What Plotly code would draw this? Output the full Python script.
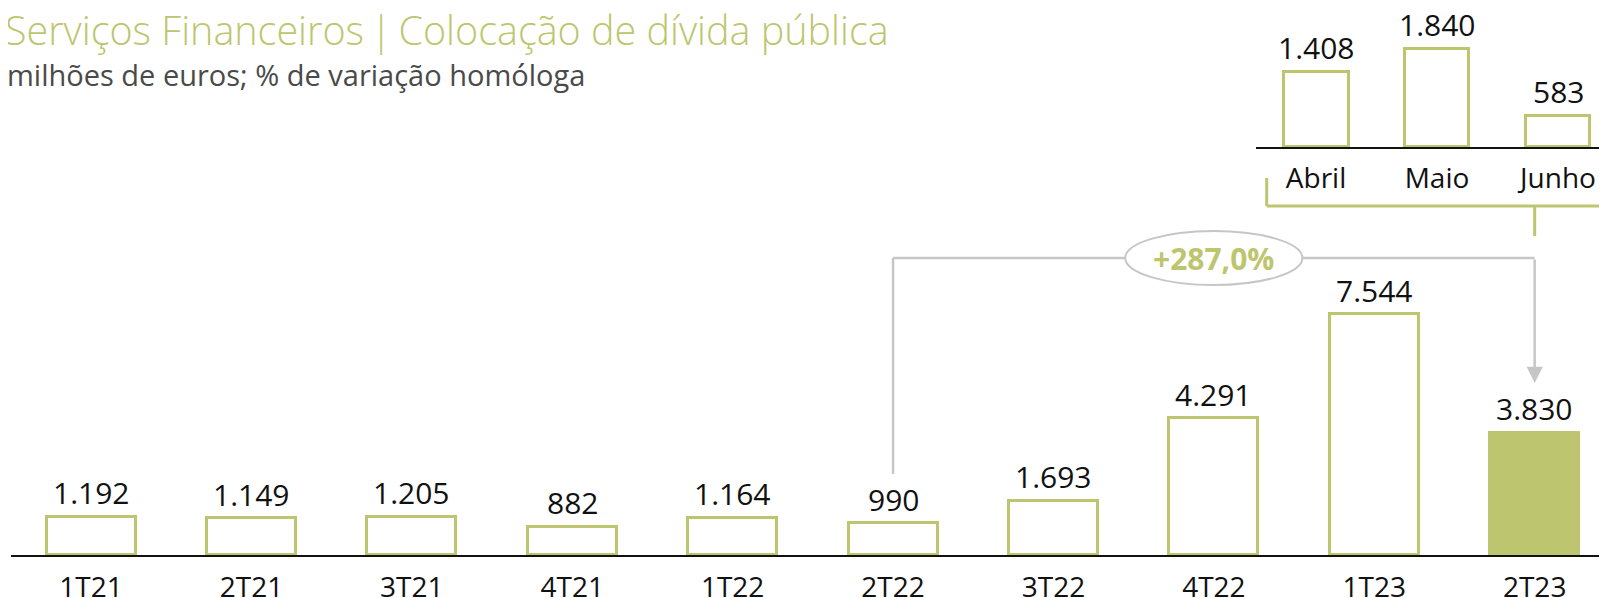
import plotly.graph_objects as go

# ---- data ----
quarters = ["1T21", "2T21", "3T21", "4T21", "1T22", "2T22", "3T22", "4T22", "1T23", "2T23"]
quarter_values = [1192, 1149, 1205, 882, 1164, 990, 1693, 4291, 7544, 3830]
quarter_labels = ["1.192", "1.149", "1.205", "882", "1.164", "990", "1.693", "4.291", "7.544", "3.830"]

months = ["Abril", "Maio", "Junho"]
month_values = [1408, 1840, 583]
month_labels = ["1.408", "1.840", "583"]

growth_label = "+287,0%"
title_text = "Serviços Financeiros\u2009|\u2009Colocação de dívida pública"
subtitle_text = "milhões de euros; % de variação homóloga"

# ---- style ----
GREEN = "#BDC66F"
GRAY = "#C6C6C6"
BLACK = "#111111"
FONT = "Open Sans"
W, H = 1599, 590          # page body keeps an 8px margin
OFF = 8                   # page-pixel offset of the figure

def py(page_y):           # page pixel (from top) -> paper y
    return 1 - (page_y - OFF) / H

def px(page_x):           # page pixel (from left) -> paper x
    return (page_x - OFF) / W

MAIN_SCALE = 0.0319       # px per unit, main chart
INSET_SCALE = 0.0532      # px per unit, inset
main_base = 555 - OFF
inset_base = 147.3 - OFF

fill_colors = ["white"] * (len(quarters) - 1) + [GREEN]

fig = go.Figure()

fig.add_trace(go.Bar(
    x=quarters, y=quarter_values,
    marker=dict(color=fill_colors, line=dict(color=GREEN, width=3)),
    width=0.555, xaxis="x", yaxis="y", showlegend=False, hoverinfo="skip",
))

fig.add_trace(go.Bar(
    x=months, y=month_values,
    marker=dict(color="white", line=dict(color=GREEN, width=3)),
    width=0.537, xaxis="x2", yaxis="y2", showlegend=False, hoverinfo="skip",
))

# connector levels (value units on main axis)
top_level = (555 - 258) / MAIN_SCALE
start_level = (555 - 474) / MAIN_SCALE
arrow_tip = (555 - 383) / MAIN_SCALE
i_from = quarters.index("2T22")
i_to = quarters.index("2T23")
i_mid = quarters.index("4T22")

shapes = [
    dict(type="line", xref="x", yref="y", x0=i_from, x1=i_from, y0=start_level, y1=top_level,
         line=dict(color=GRAY, width=2.5)),
    dict(type="line", xref="x", yref="y", x0=i_from, x1=i_to, y0=top_level, y1=top_level,
         line=dict(color=GRAY, width=2.5)),
    dict(type="circle", xref="x", yref="y", x0=i_mid - 0.552, x1=i_mid + 0.552,
         y0=top_level - 27 / MAIN_SCALE, y1=top_level + 27 / MAIN_SCALE,
         fillcolor="white", line=dict(color=GRAY, width=2)),
    # bracket under inset
    dict(type="line", xref="paper", yref="paper", x0=px(1266.7), x1=px(1266.7),
         y0=py(178), y1=py(206), line=dict(color=GREEN, width=3)),
    dict(type="line", xref="paper", yref="paper", x0=px(1266.7), x1=1.0,
         y0=py(206), y1=py(206), line=dict(color=GREEN, width=3)),
    dict(type="line", xref="x", yref="paper", x0=i_to, x1=i_to,
         y0=py(206), y1=py(236), line=dict(color=GREEN, width=3)),
]

annotations = [
    dict(xref="x", yref="y", x=i_to, y=arrow_tip, ax=i_to, ay=top_level,
         axref="x", ayref="y", text="", showarrow=True, arrowhead=2, arrowsize=1.3,
         arrowwidth=2.5, arrowcolor=GRAY),
    dict(xref="x", yref="y", x=i_mid, y=top_level, text="<b>" + growth_label + "</b>",
         showarrow=False, font=dict(family=FONT, size=30, color=GREEN)),
    dict(xref="paper", yref="paper", x=0, y=py(30), xanchor="left", yanchor="middle",
         xshift=-5, text=title_text, showarrow=False,
         font=dict(family=FONT, size=39.5, color=GREEN, weight=300)),
    dict(xref="paper", yref="paper", x=0, y=py(74), xanchor="left", yanchor="middle",
         xshift=-3, text=subtitle_text, showarrow=False,
         font=dict(family=FONT, size=29, color="#4A4A4A")),
]

for cat, val, lab in zip(quarters, quarter_values, quarter_labels):
    annotations.append(dict(xref="x", yref="y", x=cat, y=val, text=lab, showarrow=False,
                            yanchor="middle", yshift=24,
                            font=dict(family=FONT, size=30, color=BLACK)))
for cat, val, lab in zip(months, month_values, month_labels):
    annotations.append(dict(xref="x2", yref="y2", x=cat, y=val, text=lab, showarrow=False,
                            yanchor="middle", yshift=25,
                            font=dict(family=FONT, size=30, color=BLACK)))

fig.update_layout(
    width=W, height=H, margin=dict(l=0, r=0, t=0, b=0),
    paper_bgcolor="white", plot_bgcolor="white",
    bargap=0, shapes=shapes, annotations=annotations,
    xaxis=dict(domain=[px(11), 1], range=[-0.4988, 9.451], type="category",
               showgrid=False, zeroline=False, showline=True, linecolor=BLACK, linewidth=2,
               ticks="", ticklabelstandoff=6, tickfont=dict(family=FONT, size=28, color=BLACK),
               anchor="y", automargin=False, fixedrange=True),
    yaxis=dict(domain=[1 - main_base / H, 1], range=[0, main_base / MAIN_SCALE], visible=False,
               anchor="x", fixedrange=True),
    xaxis2=dict(domain=[px(1256), 1], range=[-0.496, 2.405], type="category",
                showgrid=False, zeroline=False, showline=True, linecolor=BLACK, linewidth=2,
                ticks="", ticklabelstandoff=5, tickfont=dict(family=FONT, size=28, color=BLACK),
                anchor="y2", automargin=False, fixedrange=True),
    yaxis2=dict(domain=[1 - inset_base / H, 1], range=[0, inset_base / INSET_SCALE], visible=False,
                anchor="x2", fixedrange=True),
)

fig.write_html("out.html", config={"displayModeBar": False})
